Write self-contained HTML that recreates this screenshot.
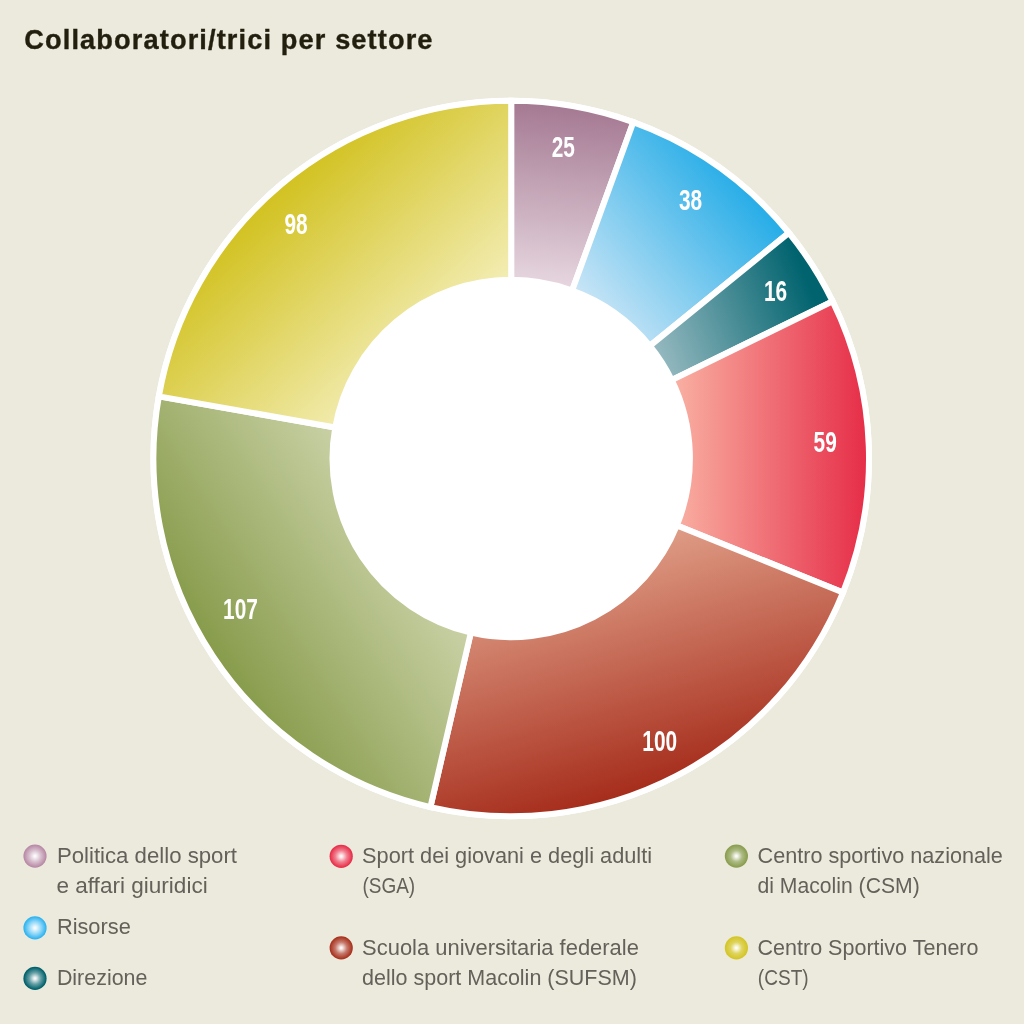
<!DOCTYPE html>
<html lang="it"><head><meta charset="utf-8"><title>Collaboratori/trici per settore</title>
<style>
html,body{margin:0;padding:0;background:#eceadd;}
body{width:1024px;height:1024px;overflow:hidden;}
svg{display:block}
text{font-family:"Liberation Sans",sans-serif;}
.title{font-weight:bold;font-size:29.4px;fill:#231f0f;stroke:#231f0f;stroke-width:0.4px}
.num{font-weight:bold;font-size:29.2px;fill:#fff;}
.lt{font-size:21.5px;fill:#63615a;}
</style></head><body>
<svg width="1024" height="1024" viewBox="0 0 1024 1024">
<defs>
<linearGradient id="g0" gradientUnits="userSpaceOnUse" x1="526.5" y1="283.6" x2="542.1" y2="105.1"><stop offset="0" stop-color="#e6d6df"/><stop offset="1" stop-color="#a57a93"/></linearGradient>
<linearGradient id="g1" gradientUnits="userSpaceOnUse" x1="631.1" y1="354.3" x2="779.0" y2="225.7"><stop offset="0" stop-color="#c9e5f6"/><stop offset="1" stop-color="#27ade7"/></linearGradient>
<linearGradient id="g2" gradientUnits="userSpaceOnUse" x1="672.2" y1="393.4" x2="839.3" y2="325.9"><stop offset="0" stop-color="#96b9c0"/><stop offset="0.93" stop-color="#00636e"/></linearGradient>
<linearGradient id="g3" gradientUnits="userSpaceOnUse" x1="674.4" y1="458.5" x2="866.0" y2="458.5"><stop offset="0" stop-color="#f9b0a3"/><stop offset="1" stop-color="#e62e48"/></linearGradient>
<linearGradient id="g4" gradientUnits="userSpaceOnUse" x1="542.0" y1="566.0" x2="609.0" y2="799.5"><stop offset="0" stop-color="#df9d86"/><stop offset="1" stop-color="#a62d1c"/></linearGradient>
<linearGradient id="g5" gradientUnits="userSpaceOnUse" x1="401.5" y1="529.7" x2="213.6" y2="651.7"><stop offset="0" stop-color="#c9d1a5"/><stop offset="1" stop-color="#889c4c"/></linearGradient>
<linearGradient id="g6" gradientUnits="userSpaceOnUse" x1="420.6" y1="361.3" x2="269.2" y2="199.0"><stop offset="0" stop-color="#f3edb4"/><stop offset="1" stop-color="#d2c222"/></linearGradient>
<radialGradient id="b0" cx="0.5" cy="0.5" r="0.5"><stop offset="0" stop-color="#fcfafb"/><stop offset="0.08" stop-color="#fbf8fa"/><stop offset="0.5" stop-color="#d8bfce"/><stop offset="0.95" stop-color="#b88aa6"/><stop offset="1" stop-color="#b88aa6"/></radialGradient>
<radialGradient id="b1" cx="0.5" cy="0.5" r="0.5"><stop offset="0" stop-color="#f7fcfe"/><stop offset="0.08" stop-color="#f3fafe"/><stop offset="0.5" stop-color="#98daf8"/><stop offset="0.95" stop-color="#30b4f0"/><stop offset="1" stop-color="#30b4f0"/></radialGradient>
<radialGradient id="b2" cx="0.5" cy="0.5" r="0.5"><stop offset="0" stop-color="#f5f9f9"/><stop offset="0.08" stop-color="#f0f5f6"/><stop offset="0.5" stop-color="#66a0a6"/><stop offset="0.95" stop-color="#00606b"/><stop offset="1" stop-color="#00606b"/></radialGradient>
<radialGradient id="b3" cx="0.5" cy="0.5" r="0.5"><stop offset="0" stop-color="#fef7f8"/><stop offset="0.08" stop-color="#fef3f4"/><stop offset="0.5" stop-color="#f17f8f"/><stop offset="0.95" stop-color="#e8304a"/><stop offset="1" stop-color="#e8304a"/></radialGradient>
<radialGradient id="b4" cx="0.5" cy="0.5" r="0.5"><stop offset="0" stop-color="#fcf7f6"/><stop offset="0.08" stop-color="#faf3f2"/><stop offset="0.5" stop-color="#c67a6d"/><stop offset="0.95" stop-color="#a8321f"/><stop offset="1" stop-color="#a8321f"/></radialGradient>
<radialGradient id="b5" cx="0.5" cy="0.5" r="0.5"><stop offset="0" stop-color="#fafbf8"/><stop offset="0.08" stop-color="#f8f9f4"/><stop offset="0.5" stop-color="#adbb84"/><stop offset="0.95" stop-color="#8a9e50"/><stop offset="1" stop-color="#8a9e50"/></radialGradient>
<radialGradient id="b6" cx="0.5" cy="0.5" r="0.5"><stop offset="0" stop-color="#fdfdf6"/><stop offset="0.08" stop-color="#fcfcf2"/><stop offset="0.5" stop-color="#dfd45e"/><stop offset="0.95" stop-color="#d4c528"/><stop offset="1" stop-color="#d4c528"/></radialGradient>
</defs>
<rect width="1024" height="1024" fill="#eceadd"/>
<text class="title" transform="translate(24.3,48.7) scale(0.925,0.965)" textLength="441.3" lengthAdjust="spacing">Collaboratori/trici per settore</text>
<circle cx="511.2" cy="458.5" r="360.8" fill="#fff"/>
<g stroke="#fff" stroke-width="6" stroke-linejoin="miter">
<path d="M511.20,100.70A357.8,357.8 0 0 1 633.28,122.17L572.17,290.52A178.7,178.7 0 0 0 511.20,279.80Z" fill="url(#g0)"/>
<path d="M633.28,122.17A357.8,357.8 0 0 1 788.87,232.84L649.88,345.80A178.7,178.7 0 0 0 572.17,290.52Z" fill="url(#g1)"/>
<path d="M788.87,232.84A357.8,357.8 0 0 1 832.65,301.37L671.75,380.02A178.7,178.7 0 0 0 649.88,345.80Z" fill="url(#g2)"/>
<path d="M832.65,301.37A357.8,357.8 0 0 1 842.95,592.53L676.89,525.44A178.7,178.7 0 0 0 671.75,380.02Z" fill="url(#g3)"/>
<path d="M842.95,592.53A357.8,357.8 0 0 1 430.41,807.06L470.85,632.58A178.7,178.7 0 0 0 676.89,525.44Z" fill="url(#g4)"/>
<path d="M430.41,807.06A357.8,357.8 0 0 1 158.84,396.37L335.21,427.47A178.7,178.7 0 0 0 470.85,632.58Z" fill="url(#g5)"/>
<path d="M158.84,396.37A357.8,357.8 0 0 1 511.20,100.70L511.20,279.80A178.7,178.7 0 0 0 335.21,427.47Z" fill="url(#g6)"/>
</g>
<circle cx="511.2" cy="458.5" r="179.7" fill="#fff"/>
<text class="num" transform="translate(563.3,157.1) scale(0.715,1)" text-anchor="middle">25</text>
<text class="num" transform="translate(690.6,209.8) scale(0.715,1)" text-anchor="middle">38</text>
<text class="num" transform="translate(775.6,301.2) scale(0.715,1)" text-anchor="middle">16</text>
<text class="num" transform="translate(825.2,451.7) scale(0.715,1)" text-anchor="middle">59</text>
<text class="num" transform="translate(659.7,750.6) scale(0.715,1)" text-anchor="middle">100</text>
<text class="num" transform="translate(240.5,619.2) scale(0.715,1)" text-anchor="middle">107</text>
<text class="num" transform="translate(296.1,233.9) scale(0.715,1)" text-anchor="middle">98</text>
<circle cx="35.0" cy="856.1" r="11.6" fill="url(#b0)"/>
<text class="lt" x="56.9" y="862.7" textLength="180.1" lengthAdjust="spacingAndGlyphs">Politica dello sport</text>
<text class="lt" x="56.4" y="892.8" textLength="151.3" lengthAdjust="spacingAndGlyphs">e affari giuridici</text>
<circle cx="35.0" cy="927.9" r="11.6" fill="url(#b1)"/>
<text class="lt" x="56.9" y="934.3" textLength="73.9" lengthAdjust="spacingAndGlyphs">Risorse</text>
<circle cx="35.0" cy="978.4" r="11.6" fill="url(#b2)"/>
<text class="lt" x="56.9" y="984.8" textLength="90.5" lengthAdjust="spacingAndGlyphs">Direzione</text>
<circle cx="341.2" cy="856.3" r="11.6" fill="url(#b3)"/>
<text class="lt" x="362.1" y="862.7" textLength="289.9" lengthAdjust="spacingAndGlyphs">Sport dei giovani e degli adulti</text>
<text class="lt" x="362.4" y="892.9" textLength="52.8" lengthAdjust="spacingAndGlyphs">(SGA)</text>
<circle cx="341.2" cy="947.9" r="11.6" fill="url(#b4)"/>
<text class="lt" x="362.1" y="954.5" textLength="276.8" lengthAdjust="spacingAndGlyphs">Scuola universitaria federale</text>
<text class="lt" x="362.1" y="984.8" textLength="274.8" lengthAdjust="spacingAndGlyphs">dello sport Macolin (SUFSM)</text>
<circle cx="736.4" cy="856.1" r="11.6" fill="url(#b5)"/>
<text class="lt" x="757.5" y="862.7" textLength="245.4" lengthAdjust="spacingAndGlyphs">Centro sportivo nazionale</text>
<text class="lt" x="757.5" y="892.9" textLength="162.2" lengthAdjust="spacingAndGlyphs">di Macolin (CSM)</text>
<circle cx="736.4" cy="947.9" r="11.6" fill="url(#b6)"/>
<text class="lt" x="757.5" y="954.5" textLength="221.0" lengthAdjust="spacingAndGlyphs">Centro Sportivo Tenero</text>
<text class="lt" x="757.8" y="984.8" textLength="50.9" lengthAdjust="spacingAndGlyphs">(CST)</text>
</svg>
</body></html>
